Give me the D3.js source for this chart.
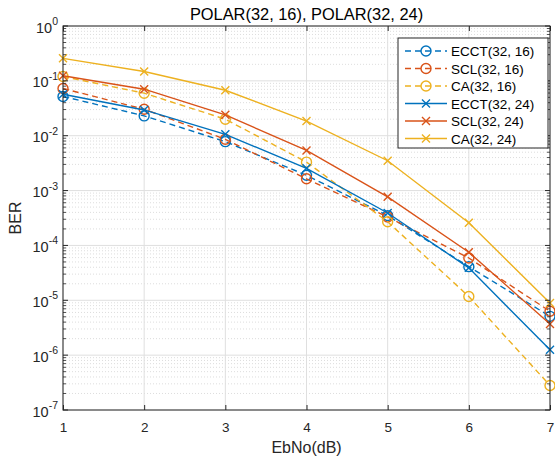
<!DOCTYPE html>
<html><head><meta charset="utf-8">
<script src="https://cdn.jsdelivr.net/npm/d3@7"></script>
<style>body{margin:0;background:#fff;} svg{display:block;font-family:"Liberation Sans",Arial,Helvetica,sans-serif;}</style>
</head><body><svg id="c" width="555" height="464"></svg>
<script>
const ebno = [1,2,3,4,5,6,7];
const ecct16 = [0.052,0.023,0.0078,0.0019,3.5e-4,4.1e-5,5.1e-6];
const scl16  = [0.0726,0.0304,0.0086,0.00164,3.3e-4,5.9e-5,6.3e-6];
const ca16   = [0.12,0.0596,0.020,0.0033,2.7e-4,1.17e-5,2.8e-7];
const ecct24 = [0.057,0.0295,0.0106,0.00254,3.9e-4,3.9e-5,1.25e-6];
const scl24  = [0.124,0.0705,0.024,0.0054,7.7e-4,7.5e-5,3.7e-6];
const ca24   = [0.257,0.148,0.0675,0.0185,0.0035,2.6e-4,8.9e-6];
const seriesNames = ["ECCT(32, 16)","SCL(32, 16)","CA(32, 16)","ECCT(32, 24)","SCL(32, 24)","CA(32, 24)"];
const xTicks = [1,2,3,4,5,6,7];
const yExps = [0,-1,-2,-3,-4,-5,-6,-7];
const titleText = "POLAR(32, 16), POLAR(32, 24)";
const xLabel = "EbNo(dB)";
const yLabel = "BER";

const colors = ["#0072BD","#D95319","#EDB120"];
const series = [
  {name:seriesNames[0], values:ecct16, color:colors[0], dash:true, marker:"o"},
  {name:seriesNames[1], values:scl16, color:colors[1], dash:true, marker:"o"},
  {name:seriesNames[2], values:ca16, color:colors[2], dash:true, marker:"o"},
  {name:seriesNames[3], values:ecct24, color:colors[0], dash:false, marker:"x"},
  {name:seriesNames[4], values:scl24, color:colors[1], dash:false, marker:"x"},
  {name:seriesNames[5], values:ca24, color:colors[2], dash:false, marker:"x"}
];

const L=63, R=550, T=26, B=410;
const svg = d3.select("#c");
const x = d3.scaleLinear().domain([1,7]).range([L,R]);
const y = d3.scaleLog().domain([1e-7,1]).range([B,T]);
const axisColor = "#262626";

// grid
const g = svg.append("g");
const minors = [];
for (let e=-7;e<0;e++) for (let m=2;m<=9;m++) minors.push(m*Math.pow(10,e));
g.selectAll(".ymin").data(minors).enter().append("line")
  .attr("x1",L).attr("x2",R).attr("y1",d=>y(d)).attr("y2",d=>y(d))
  .attr("stroke","#d4d4d4").attr("stroke-width",0.8).attr("stroke-dasharray","1,2");
g.selectAll(".ymaj").data(yExps.map(e=>Math.pow(10,e))).enter().append("line")
  .attr("x1",L).attr("x2",R).attr("y1",d=>y(d)).attr("y2",d=>y(d))
  .attr("stroke","#dfdfdf").attr("stroke-width",1);
g.selectAll(".xmaj").data(xTicks).enter().append("line")
  .attr("x1",d=>x(d)).attr("x2",d=>x(d)).attr("y1",T).attr("y2",B)
  .attr("stroke","#dfdfdf").attr("stroke-width",1);

// series
const line = d3.line().x((d,i)=>x(ebno[i])).y(d=>y(d));
series.forEach(s=>{
  const sg = svg.append("g");
  sg.append("path").datum(s.values).attr("d",line).attr("fill","none")
    .attr("stroke",s.color).attr("stroke-width",1.4)
    .attr("stroke-dasharray",s.dash?"6,4":null);
  s.values.forEach((v,i)=>{
    const cx=x(ebno[i]), cy=y(v);
    if (s.marker==="o") {
      sg.append("circle").attr("cx",cx).attr("cy",cy).attr("r",5)
        .attr("fill","none").attr("stroke",s.color).attr("stroke-width",1.4);
    } else {
      const k=4;
      sg.append("path").attr("d",`M${cx-k},${cy-k}L${cx+k},${cy+k}M${cx-k},${cy+k}L${cx+k},${cy-k}`)
        .attr("stroke",s.color).attr("stroke-width",1.4);
    }
  });
});

// axes box and ticks
svg.append("rect").attr("x",L).attr("y",T).attr("width",R-L).attr("height",B-T)
  .attr("fill","none").attr("stroke",axisColor).attr("stroke-width",1);
const xAx = d3.axisBottom(x).tickValues(xTicks).tickSize(-5).tickPadding(12).tickFormat(d3.format("d"));
const xg = svg.append("g").attr("transform",`translate(0,${B})`).call(xAx);
xg.select(".domain").remove();
xg.selectAll("line").attr("stroke",axisColor);
xg.selectAll("text").attr("font-size",13.5).attr("fill",axisColor).attr("font-family","Liberation Sans, Arial");
const xAxT = d3.axisTop(x).tickValues(xTicks).tickSize(-5).tickFormat("");
const xgt = svg.append("g").attr("transform",`translate(0,${T})`).call(xAxT);
xgt.select(".domain").remove(); xgt.selectAll("line").attr("stroke",axisColor);

const yMajVals = yExps.map(e=>Math.pow(10,e));
[["l",L,1],["r",R,-1]].forEach(([n,px,dir])=>{
  svg.append("g").selectAll("line").data(yMajVals).enter().append("line")
    .attr("x1",px).attr("x2",px+dir*5).attr("y1",d=>y(d)).attr("y2",d=>y(d)).attr("stroke",axisColor);
  svg.append("g").selectAll("line").data(minors).enter().append("line")
    .attr("x1",px).attr("x2",px+dir*3).attr("y1",d=>y(d)).attr("y2",d=>y(d)).attr("stroke",axisColor).attr("stroke-width",0.8);
});
const ylab = svg.append("g");
yExps.forEach(e=>{
  const t = ylab.append("text").attr("x",58).attr("y",y(Math.pow(10,e))+6.5)
    .attr("text-anchor","end").attr("fill",axisColor).attr("font-size",14.5);
  t.append("tspan").text("10");
  t.append("tspan").attr("dy",-7.5).attr("font-size",10.5).text(String(e));
});

// labels
svg.append("text").attr("x",(L+R)/2).attr("y",19.5).attr("text-anchor","middle")
  .attr("font-size",16.4).attr("fill","#000").text(titleText);
svg.append("text").attr("x",(L+R)/2).attr("y",453).attr("text-anchor","middle")
  .attr("font-size",16).attr("fill",axisColor).text(xLabel);
svg.append("text").attr("transform",`translate(20.5,${(T+B)/2}) rotate(-90)`).attr("text-anchor","middle")
  .attr("font-size",16).attr("fill",axisColor).text(yLabel);

// legend
const lg = svg.append("g");
lg.append("rect").attr("x",398).attr("y",38).attr("width",150).attr("height",110)
  .attr("fill","#fff").attr("stroke",axisColor).attr("stroke-width",1);
series.forEach((s,i)=>{
  const cy = 51 + i*17.5;
  lg.append("line").attr("x1",405).attr("x2",447).attr("y1",cy).attr("y2",cy)
    .attr("stroke",s.color).attr("stroke-width",1.4).attr("stroke-dasharray",s.dash?"6,4":null);
  const cx=426;
  if (s.marker==="o") lg.append("circle").attr("cx",cx).attr("cy",cy).attr("r",5).attr("fill","none").attr("stroke",s.color).attr("stroke-width",1.4);
  else { const k=4; lg.append("path").attr("d",`M${cx-k},${cy-k}L${cx+k},${cy+k}M${cx-k},${cy+k}L${cx+k},${cy-k}`).attr("stroke",s.color).attr("stroke-width",1.4); }
  lg.append("text").attr("x",451).attr("y",cy+5).attr("font-size",13.5).attr("fill","#000").text(s.name);
});
</script></body></html>
